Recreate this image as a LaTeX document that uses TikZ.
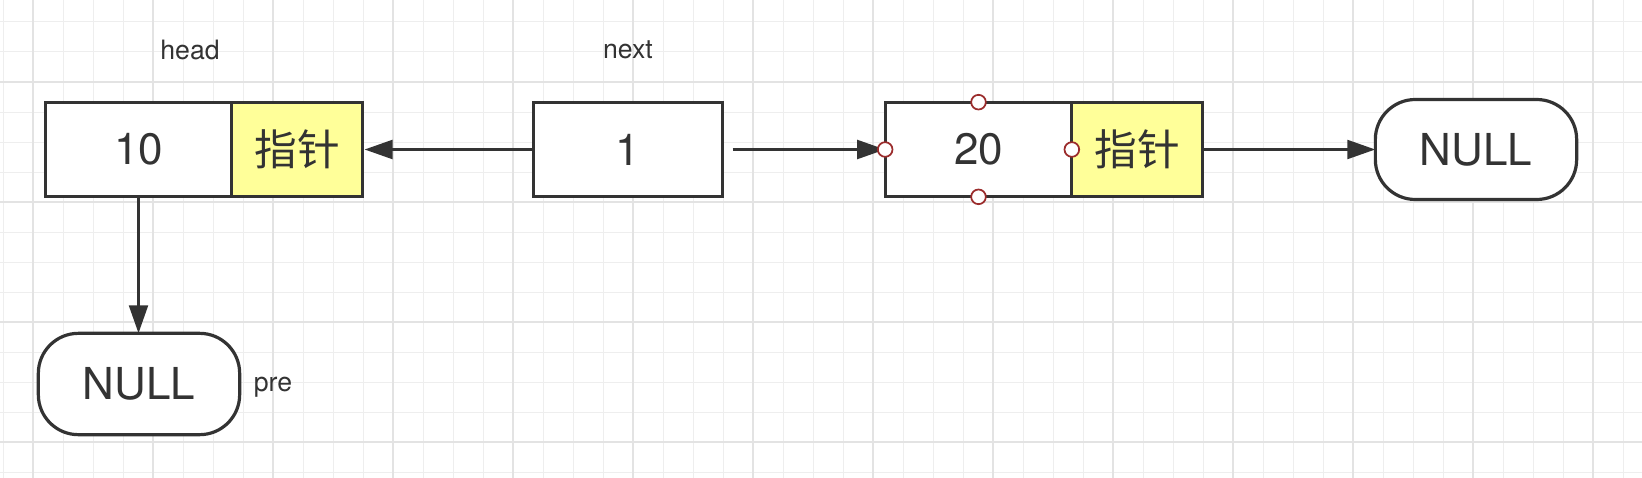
\documentclass[tikz,border=0pt]{standalone}
\usepackage{fontspec}
\setmainfont{TeX Gyre Heros}
\newfontfamily\cjk{Noto Sans CJK SC}
\usepackage{tikz}
\usetikzlibrary{positioning}
\usetikzlibrary{arrows.meta}
\definecolor{ink}{HTML}{333333}
\definecolor{memo}{HTML}{FFFF99}
\definecolor{gridminor}{HTML}{EEEEEE}
\definecolor{gridmajor}{HTML}{E3E3E3}
\definecolor{gripred}{HTML}{9B2C2C}

\begin{document}
\begin{tikzpicture}[x=0.75pt,y=-0.75pt]
\tikzset{field/.style={rectangle,minimum width=140pt,minimum height=71pt,outer sep=0pt,draw=ink,line width=2.4pt,fill=white,text=ink,font=\fontsize{33}{37}\selectfont}}
\tikzset{pointer/.style={field,minimum width=98pt,fill=memo,font=\cjk\fontsize{32}{36}\selectfont}}
\tikzset{terminal/.style={field,minimum width=151pt,minimum height=75pt,rounded corners=30pt}}
\tikzset{tag/.style={text=ink,font=\fontsize{20}{24}\selectfont}}
\tikzset{link/.style={draw=ink,line width=2.4pt,-{Triangle[length=21pt,width=14pt]}}}
\tikzset{grip/.style={circle,minimum size=11pt,inner sep=0pt,draw=gripred,line width=1.3pt,fill=white}}
% background grid
\fill[white] (0,0) rectangle (1642,478);
\useasboundingbox (0,0) rectangle (1642,478);
\foreach \x in {3,33,...,1623} \draw[gridminor,line width=0.75pt] (\x,0) -- (\x,478);
\foreach \y in {22,52,...,472} \draw[gridminor,line width=0.75pt] (0,\y) -- (1642,\y);
\foreach \x in {33,153,...,1593} \draw[gridmajor,line width=1.1pt] (\x,0) -- (\x,478);
\foreach \y in {82,202,322,442} \draw[gridmajor,line width=1.1pt] (0,\y) -- (1642,\y);
% list nodes
\node[field] (val10) at (138.5,149.5) {10};
\node[pointer, right=0pt of val10] (ptr10) {指针};
\node[tag] (head) at (190,50) {head};
\node[field, minimum width=142pt] (one) at (628,149.5) {1};
\node[tag] (next) at (628,50) {next};
\node[field] (val20) at (978.5,149.5) {20};
\node[pointer, right=0pt of val20] (ptr20) {指针};
\node[terminal] (nullR) at (1476,149.5) {NULL};
\node[terminal, minimum height=76pt] (nullB) at (139,384) {NULL};
\node[tag] (pre) at (273,387) {pre};
% links
\coordinate (gap) at ([xshift=7.5pt]one.east);
\draw[link, shorten >=1.5pt] (one.west) -- (ptr10.east);
\draw[link] (gap) -- (val20.west);
\draw[link] (ptr20.east) -- (nullR.west);
\draw[link] (val10.south) -- (val10.south |- nullB.north);
% selection handles
\foreach \side in {north,south,west,east} \node[grip] (grip-\side) at (val20.\side) {};
\end{tikzpicture}
\end{document}
